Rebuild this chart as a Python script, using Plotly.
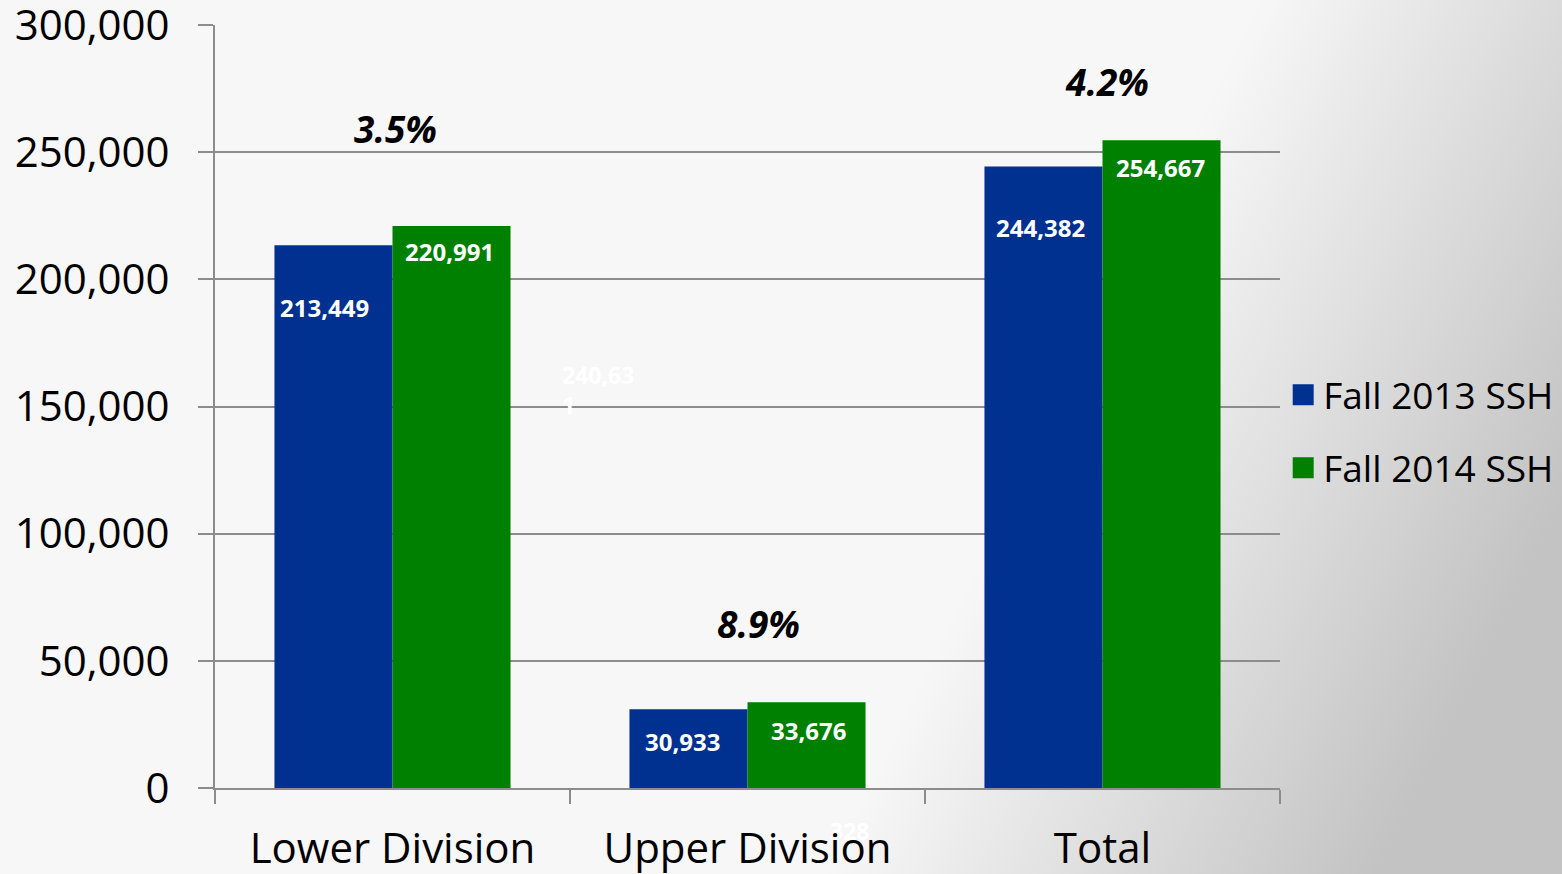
import plotly.graph_objects as go

# data
categories = ["Lower Division", "Upper Division", "Total"]
fall_2013 = [213449, 30933, 244382]
fall_2014 = [220991, 33676, 254667]
series_names = ["Fall 2013 SSH", "Fall 2014 SSH"]
y_ticks = [0, 50000, 100000, 150000, 200000, 250000, 300000]

blue = "#003190"
green = "#008000"
font = "Open Sans"

bg_svg = (
    "data:image/svg+xml;utf8,"
    "<svg xmlns='http://www.w3.org/2000/svg' width='1562' height='874' viewBox='0 0 1562 874' preserveAspectRatio='none'>"
    "<defs><linearGradient id='g' gradientUnits='userSpaceOnUse' x1='1120' y1='280' x2='1562' y2='500'>"
    "<stop offset='0' stop-color='%23f7f7f7'/><stop offset='1' stop-color='%23c3c3c3'/>"
    "</linearGradient></defs><rect width='1562' height='874' fill='url(%23g)'/></svg>"
)

fig = go.Figure()
fig.add_trace(go.Bar(x=categories, y=fall_2013, name=series_names[0], marker_color=blue,
                     marker_line_width=0, showlegend=False))
fig.add_trace(go.Bar(x=categories, y=fall_2014, name=series_names[1], marker_color=green,
                     marker_line_width=0, showlegend=False))
# legend entries with big square swatches
for nm, col in zip(series_names, [blue, green]):
    fig.add_trace(go.Scatter(x=[None], y=[None], mode="markers", name=nm, legendgroup=nm,
                             marker=dict(symbol="square", size=24, color=col,
                                         line=dict(width=5, color=col))))

# value labels inside bars (pixel nudges to mimic the hand placed labels)
lab_shift_2013 = [-62, -32, -61]
lab_shift_2014 = [-26, -28, -27]
lab_dx_2013 = [-68, -65, -62]
lab_dx_2014 = [57, 61, 58]
for i, c in enumerate(categories):
    fig.add_annotation(x=c, y=fall_2013[i], text=f"<b>{fall_2013[i]:,}</b>", showarrow=False,
                       xshift=lab_dx_2013[i], yshift=lab_shift_2013[i],
                       font=dict(family=font, size=24, color="white"))
    fig.add_annotation(x=c, y=fall_2014[i], text=f"<b>{fall_2014[i]:,}</b>", showarrow=False,
                       xshift=lab_dx_2014[i], yshift=lab_shift_2014[i],
                       font=dict(family=font, size=24, color="white"))

# growth percentages
pct_shift = [97, 79, 59]
pct_dx = [3, 11, 4]
for i, c in enumerate(categories):
    pct = (fall_2014[i] / fall_2013[i] - 1) * 100
    fig.add_annotation(x=c, y=max(fall_2013[i], fall_2014[i]), text=f"<b><i>{pct:.1f}%</i></b>",
                       showarrow=False, xshift=pct_dx[i], yshift=pct_shift[i],
                       font=dict(family=font, size=37, color="black"))

# faint ghost labels left over in the original
fig.add_annotation(xref="paper", yref="paper", x=0.324, y=0.5216, xanchor="left", align="left",
                   text="<b>240,63<br>1</b>", showarrow=False,
                   font=dict(family=font, size=23, color="white"))
fig.add_annotation(xref="paper", yref="paper", x=0.596, y=-0.08, text="<b>328</b>", showarrow=False,
                   font=dict(family=font, size=23, color="white"))

fig.add_layout_image(source=bg_svg, xref="paper", yref="paper", x=-215 / 1065, y=1 + 25 / 763,
                     sizex=1562 / 1065, sizey=874 / 763, sizing="stretch", xanchor="left",
                     yanchor="top", layer="below")

fig.update_layout(
    width=1562, height=874,
    margin=dict(l=215, r=282, t=25, b=86, autoexpand=False),
    paper_bgcolor="#f7f7f7", plot_bgcolor="rgba(0,0,0,0)",
    barmode="group", bargap=0.335, bargroupgap=0,
    font=dict(family=font, color="black"),
    showlegend=True,
    legend=dict(x=1.003, y=0.467, xanchor="left", yanchor="middle", bgcolor="rgba(0,0,0,0)",
                font=dict(family=font, size=37), itemsizing="trace", tracegroupgap=22,
                traceorder="grouped"),
    xaxis=dict(tickson="boundaries", ticks="outside", ticklen=14, tickcolor="#8c8c8c", tickwidth=2,
               showgrid=False, showline=True, linecolor="#8c8c8c", linewidth=2,
               ticklabelstandoff=23, automargin=False,
               tickfont=dict(family=font, size=42), fixedrange=True),
    yaxis=dict(range=[0, 300001], tickvals=y_ticks, tickformat=",", ticks="outside", ticklen=15,
               tickcolor="#8c8c8c", tickwidth=2, showline=True, linecolor="#8c8c8c", linewidth=2,
               gridcolor="#8c8c8c", gridwidth=1.5, zeroline=False, ticklabelstandoff=20,
               ticklabeloverflow="allow", automargin=False,
               tickfont=dict(family=font, size=42), fixedrange=True),
)

fig.write_html("out.html", config={"displayModeBar": False},
               post_script="document.body.style.margin='0';")
